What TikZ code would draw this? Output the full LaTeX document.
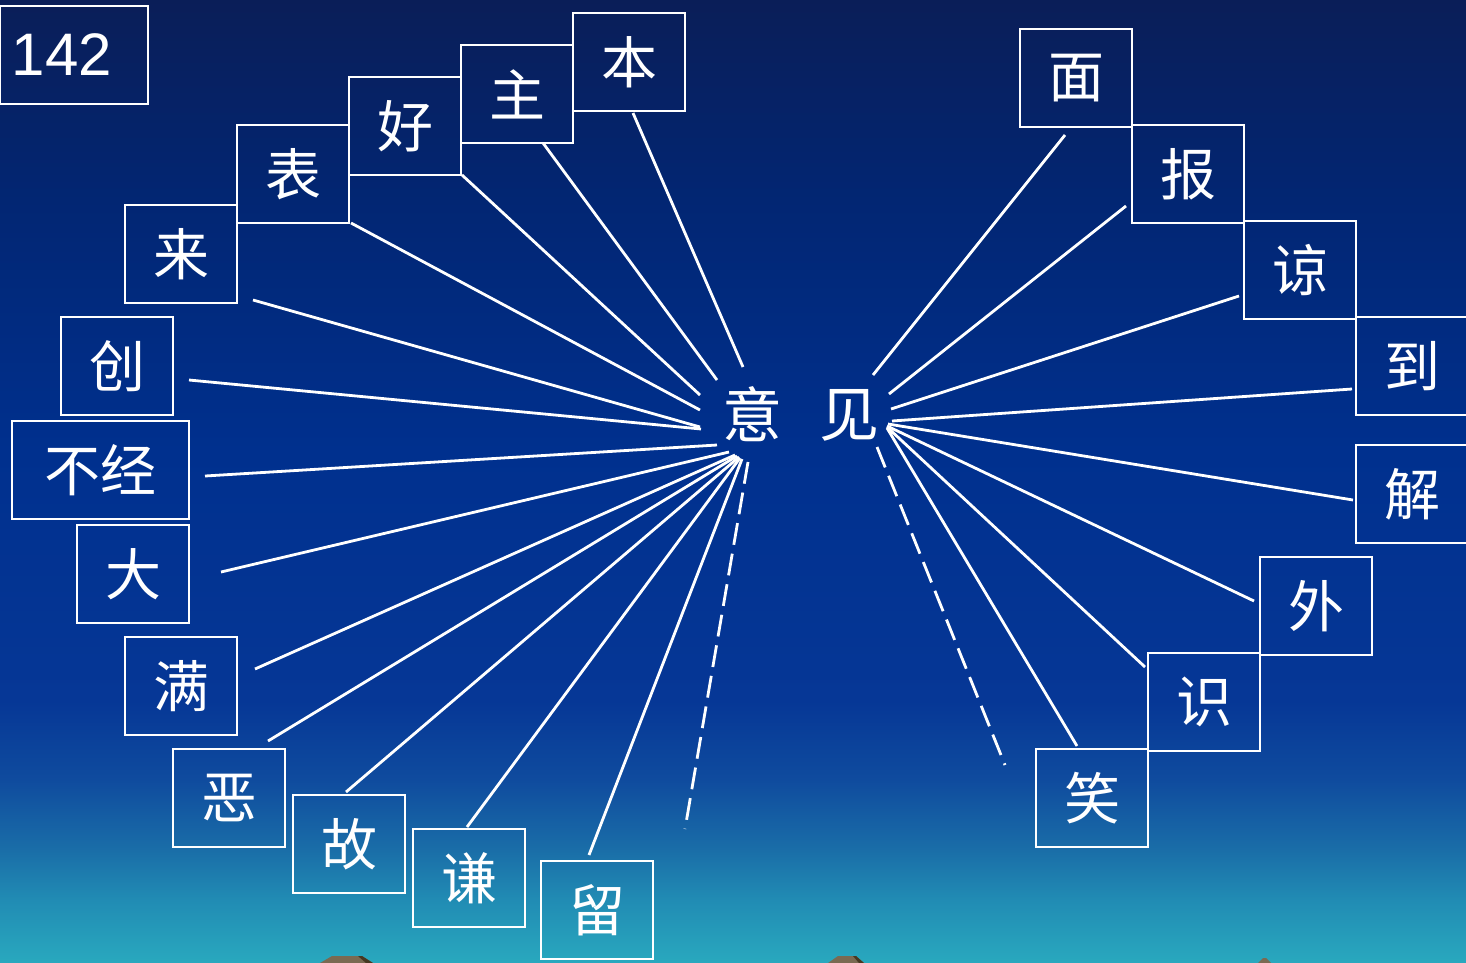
\documentclass[tikz,border=0pt]{standalone}
\usepackage{fontspec}
\newfontfamily\cjk{Noto Sans CJK SC}
\newfontfamily\arialfont{Liberation Sans}
\definecolor{g0}{RGB}{41,168,190}
\definecolor{g1}{RGB}{33,140,180}
\definecolor{g2}{RGB}{26,110,168}
\definecolor{g3}{RGB}{15,75,158}
\definecolor{g4}{RGB}{6,55,150}
\definecolor{g5}{RGB}{0,48,142}
\definecolor{g6}{RGB}{2,38,115}
\definecolor{g7}{RGB}{10,30,88}
\definecolor{rockA}{RGB}{122,106,82}
\definecolor{rockB}{RGB}{70,56,34}
\pgfdeclareverticalshading{bgshade}{100bp}{color(0bp)=(g0); color(25bp)=(g0); color(28.2bp)=(g1); color(30.8bp)=(g2); color(34.5bp)=(g3); color(38.6bp)=(g4); color(51.6bp)=(g5); color(64.6bp)=(g6); color(75bp)=(g7); color(100bp)=(g7)}
\tikzset{
  wordbox/.style={draw=white, line width=2.8pt, minimum width=112pt, minimum height=98pt, inner sep=0pt, text=white, font=\cjk\fontsize{56}{58}\selectfont},
  centerword/.style={text=white, inner sep=0pt, font=\cjk\fontsize{60}{62}\selectfont},
  ray/.style={white, line width=2.8pt},
  dashray/.style={white, line width=2.8pt, dash pattern=on 22pt off 9pt},
  rock/.style={fill=rockA}
}
\begin{document}
\begin{tikzpicture}[x=1pt, y=-1pt]
\useasboundingbox (0,0) rectangle (1466,962);
\shade[shading=bgshade] (0pt,0pt) rectangle (1466pt,-962pt);
\begin{scope}
\clip (0,0) rectangle (1466,962);
% bottom decorations
\fill[rock] (320,963) -- (332,956) -- (362,956) -- (373,963) -- cycle;
\fill[rockB] (358,956) -- (362,956) -- (373,963) -- (366,963) -- cycle;
\fill[rock] (828,963) -- (838,956) -- (856,956) -- (864,963) -- cycle;
\fill[rockB] (853,956) -- (856,956) -- (864,963) -- (859,963) -- cycle;
\fill[rock] (1258,963) -- (1263,958) -- (1266,958) -- (1271,963) -- cycle;

% number box
\node[draw=white, line width=2.8pt, minimum width=148pt, minimum height=98pt, inner sep=0pt, text width=124pt, align=left, text=white, font=\arialfont\fontsize{60}{62}\selectfont] (num) at (74,55) {142};

% center words
\node[centerword] (yi) at (752,414) {意};
\node[centerword] (jian) at (849,415) {见};

% left boxes
\node[wordbox] (ben) at (629,62) {本};
\node[wordbox] (zhu) at (517,94) {主};
\node[wordbox] (hao) at (405,126) {好};
\node[wordbox] (biao) at (293,174) {表};
\node[wordbox] (lai) at (181,254) {来};
\node[wordbox] (chuang) at (117,366) {创};
\node[wordbox, minimum width=177pt] (bujing) at (100.5,470) {不经};
\node[wordbox] (da) at (133,574) {大};
\node[wordbox] (man) at (181,686) {满};
\node[wordbox] (e) at (229,798) {恶};
\node[wordbox] (gu) at (349,844) {故};
\node[wordbox] (qian) at (469,878) {谦};
\node[wordbox] (liu) at (597,910) {留};

% right boxes
\node[wordbox] (mian) at (1076,78) {面};
\node[wordbox] (bao) at (1188,174) {报};
\node[wordbox] (liang) at (1300,270) {谅};
\node[wordbox] (dao) at (1412,366) {到};
\node[wordbox] (jie) at (1412,494) {解};
\node[wordbox] (wai) at (1316,606) {外};
\node[wordbox] (shi) at (1204,702) {识};
\node[wordbox] (xiao) at (1092,798) {笑};

% left ray end points
\coordinate (sBen) at (633,113);   \coordinate (eBen) at (743,367);
\coordinate (sZhu) at (543,143);   \coordinate (eZhu) at (717,380);
\coordinate (sHao) at (462,175);   \coordinate (eHao) at (700,395);
\coordinate (sBiao) at (351,223);  \coordinate (eBiao) at (700,410);
\coordinate (sLai) at (253,300);   \coordinate (eLai) at (700,427);
\coordinate (sChuang) at (189,380); \coordinate (eChuang) at (701,429);
\coordinate (sBujing) at (205,476); \coordinate (eBujing) at (717,445);
\coordinate (sDa) at (221,572);    \coordinate (eDa) at (729,452);
\coordinate (sMan) at (255,669);   \coordinate (eMan) at (735,455);
\coordinate (sE) at (268,741);     \coordinate (eE) at (737,456);
\coordinate (sGu) at (346,792);    \coordinate (eGu) at (739,457);
\coordinate (sQian) at (467,827);  \coordinate (eQian) at (740,458);
\coordinate (sLiu) at (589,855);   \coordinate (eLiu) at (742,459);
\coordinate (dL1) at (748,462);    \coordinate (dL2) at (685,829);

% right ray end points
\coordinate (sMian) at (1065,135);  \coordinate (eMian) at (873,375);
\coordinate (sBao) at (1126,206);   \coordinate (eBao) at (889,394);
\coordinate (sLiang) at (1239,296); \coordinate (eLiang) at (891,409);
\coordinate (sDao) at (1352,389);   \coordinate (eDao) at (892,421);
\coordinate (sJie) at (1353,500);   \coordinate (eJie) at (888,424);
\coordinate (sWai) at (1254,601);   \coordinate (eWai) at (887,426);
\coordinate (sShi) at (1145,667);   \coordinate (eShi) at (887,427);
\coordinate (sXiao) at (1077,746);  \coordinate (eXiao) at (887,428);
\coordinate (dR1) at (877,447);     \coordinate (dR2) at (1005,765);

\foreach \s/\e in {sBen/eBen, sZhu/eZhu, sHao/eHao, sBiao/eBiao, sLai/eLai, sChuang/eChuang, sBujing/eBujing, sDa/eDa, sMan/eMan, sE/eE, sGu/eGu, sQian/eQian, sLiu/eLiu, sMian/eMian, sBao/eBao, sLiang/eLiang, sDao/eDao, sJie/eJie, sWai/eWai, sShi/eShi, sXiao/eXiao}
  \draw[ray] (\s) -- (\e);
\draw[dashray] (dL1) -- (dL2);
\draw[dashray] (dR1) -- (dR2);
\end{scope}
\end{tikzpicture}
\end{document}
